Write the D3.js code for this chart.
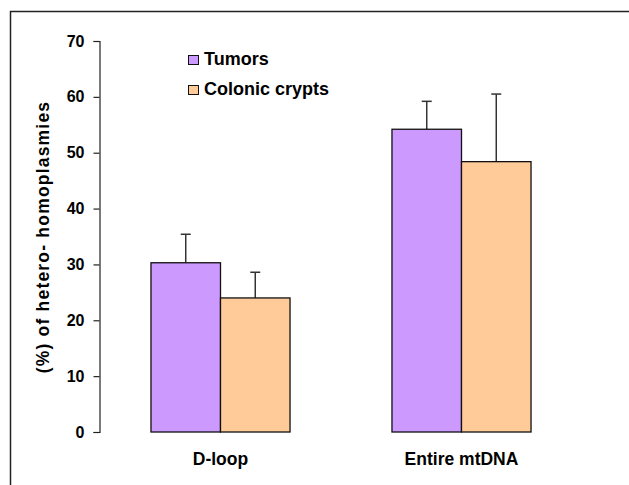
<!DOCTYPE html>
<html>
<head>
<meta charset="utf-8">
<script src="https://cdn.jsdelivr.net/npm/d3@7"></script>
<style>
  body { margin: 0; background: #fff; }
  text { font-family: "Liberation Sans", Arial, sans-serif; font-weight: bold; fill: #000; }
</style>
</head>
<body>
<svg id="chart" width="629" height="485"></svg>
<script>
const CATEGORIES = ['D-loop', 'Entire mtDNA'];
const SERIES = ['Tumors', 'Colonic crypts'];
const TUMORS = [30.3, 54.2];
const TUMORS_ERR = [5.1, 5.0];
const CRYPTS = [24.0, 48.4];
const CRYPTS_ERR = [4.6, 12.1];
const Y_TICKS = [0, 10, 20, 30, 40, 50, 60, 70];
const COLORS = ['#cc99ff', '#ffcc99'];

const svg = d3.select('#chart');

// outer frame, only top and left edges fall inside the picture
svg.append('rect')
  .attr('x', 10.5).attr('y', 11.5)
  .attr('width', 700).attr('height', 600)
  .attr('fill', 'none').attr('stroke', '#222').attr('stroke-width', 1.5);

const y = d3.scaleLinear().domain([0, 70]).range([432, 41]);
const x0 = d3.scaleBand().domain(CATEGORIES).range([100, 582])
  .paddingInner(0.423).paddingOuter(0.2115);
const x1 = d3.scaleBand().domain(SERIES).range([0, x0.bandwidth()]);
const color = d3.scaleOrdinal().domain(SERIES).range(COLORS);

const rows = CATEGORIES.map((c, i) => ({
  cat: c,
  vals: [
    { s: SERIES[0], v: TUMORS[i], e: TUMORS_ERR[i] },
    { s: SERIES[1], v: CRYPTS[i], e: CRYPTS_ERR[i] }
  ]
}));

const groups = svg.append('g').selectAll('g').data(rows)
  .enter().append('g')
  .attr('transform', d => `translate(${x0(d.cat)},0)`);

// error bars first, bars drawn over the lower part
groups.selectAll('g.err').data(d => d.vals)
  .enter().append('g').classed('err', true)
  .each(function (d) {
    const cx = x1(d.s) + x1.bandwidth() / 2;
    const g = d3.select(this).attr('stroke', '#333').attr('stroke-width', 1.5);
    g.append('line').attr('x1', cx).attr('x2', cx).attr('y1', y(d.v)).attr('y2', y(d.v + d.e));
    g.append('line').attr('x1', cx - 5).attr('x2', cx + 5).attr('y1', y(d.v + d.e)).attr('y2', y(d.v + d.e));
  });

groups.selectAll('rect').data(d => d.vals)
  .enter().append('rect')
  .attr('x', d => x1(d.s))
  .attr('y', d => y(d.v))
  .attr('width', x1.bandwidth())
  .attr('height', d => y(0) - y(d.v))
  .attr('fill', d => color(d.s))
  .attr('stroke', '#111').attr('stroke-width', 1.3);

// y axis
const yAxis = svg.append('g')
  .attr('transform', 'translate(99.5,0)')
  .call(d3.axisLeft(y).tickValues(Y_TICKS).tickSizeOuter(0).tickSize(6).tickPadding(9));
yAxis.select('.domain').attr('stroke', '#222').attr('stroke-width', 1.2);
yAxis.selectAll('.tick line').attr('stroke', '#222').attr('stroke-width', 1.2);
yAxis.selectAll('.tick text')
  .style('font-family', '"Liberation Sans", Arial, sans-serif')
  .style('font-weight', 'bold').style('font-size', '16px').attr('fill', '#000');

// category labels
svg.append('g').selectAll('text').data(CATEGORIES)
  .enter().append('text')
  .attr('x', d => x0(d) + x0.bandwidth() / 2)
  .attr('y', 465)
  .attr('text-anchor', 'middle')
  .style('font-size', '17.5px')
  .text(d => d);

// y title
svg.append('text')
  .attr('transform', 'translate(49,237) rotate(-90)')
  .attr('text-anchor', 'middle')
  .style('font-size', '17.5px')
  .style('letter-spacing', '1.2px')
  .text('(%) of hetero- homoplasmies');

// legend
const legend = svg.append('g').selectAll('g').data(SERIES)
  .enter().append('g')
  .attr('transform', (d, i) => `translate(188,${55 + i * 30})`);
legend.append('rect')
  .attr('x', 0.5).attr('y', 0.5).attr('width', 10).attr('height', 9)
  .attr('fill', d => color(d)).attr('stroke', '#111').attr('stroke-width', 1);
legend.append('text')
  .attr('x', 16).attr('y', 9.5)
  .style('font-size', '18px')
  .text(d => d);
</script>
</body>
</html>
